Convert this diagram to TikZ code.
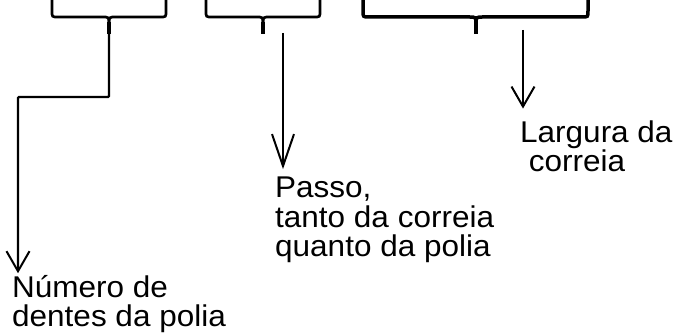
\documentclass[tikz,border=0pt]{standalone}
\usepackage{fontspec}
\newfontfamily\lblfont{Liberation Sans}[FakeStretch=1.05]
\usetikzlibrary{arrows.meta, positioning}

\tikzset{
  lbl/.style={font=\lblfont\fontsize{30}{29.5}\selectfont, align=left, inner sep=0pt},
  bracket/.style={line width=2.5pt, line cap=butt},
  pointer/.style={line width=2.3pt, -{Straight Barb[length=20pt, width=23pt, line width=2pt]}}
}

\begin{document}
\begin{tikzpicture}[x=1pt, y=-1pt]
\useasboundingbox (0,0) rectangle (675,336);

\foreach \l/\r/\m/\w/\n in {52/166/109/2.7/1, 206/320/263/2.7/2, 363/588/476/3.5/3} {
  \draw[bracket, line width=\w pt] (\l,-3) -- (\l,11) .. controls (\l,17) .. (\l+6,17) -- (\m-7,17) .. controls (\m,17) .. (\m,24) -- (\m,34);
  \draw[bracket, line width=\w pt] (\r,-3) -- (\r,11) .. controls (\r,17) .. (\r-6,17) -- (\m+7,17) .. controls (\m,17) .. (\m,24);
  \draw[bracket, line width=\w pt+1pt] (\m,22) -- (\m,34);
  \coordinate (tip\n) at (\m,34);
}

\node[lbl, anchor=base west] (numero) at (12,327) {Número de\\dentes da polia};
\node[lbl, anchor=base west] (passo) at (275,257) {Passo,\\tanto da correia\\quanto da polia};
\node[lbl, anchor=base west] (largura) at (520,172) {Largura da\\\ correia};

\coordinate (bend1) at (109,97);
\coordinate (start2) at (283,33);
\coordinate (start3) at (523,30);

\draw[pointer, rounded corners=1pt, shorten >=2pt] (tip1) -- (bend1) -| ([xshift=6pt]numero.north west);
\draw[pointer, -{Straight Barb[length=32pt, width=22pt, line width=2pt]}, shorten >=8pt] (start2) -- (start2 |- passo.north);
\draw[pointer, shorten >=12pt] (start3) -- (start3 |- largura.north);
\end{tikzpicture}
\end{document}
